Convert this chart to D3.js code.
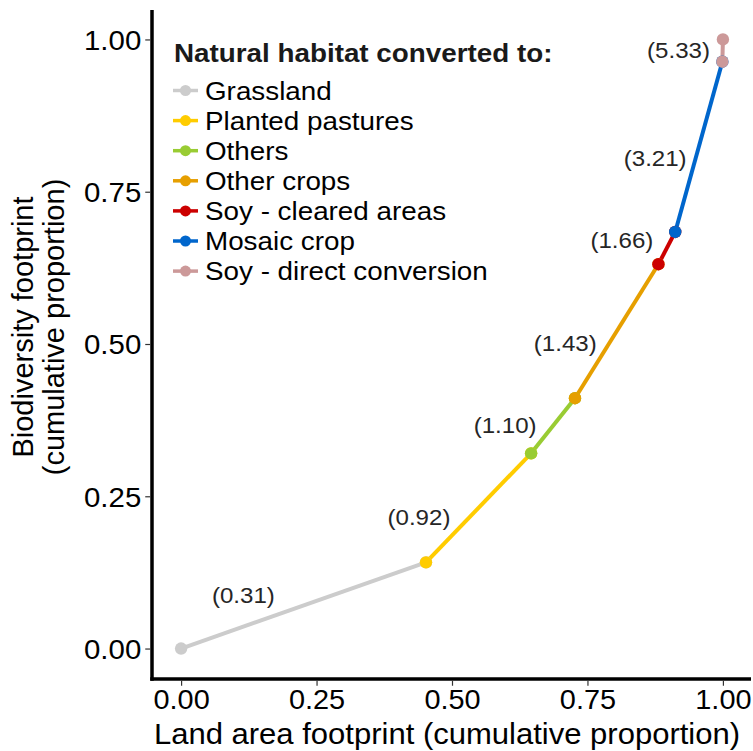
<!DOCTYPE html>
<html>
<head>
<meta charset="utf-8">
<script src="https://cdn.jsdelivr.net/npm/d3@7"></script>
<style>
  html, body { margin: 0; padding: 0; background: #ffffff; }
  svg { display: block; font-family: "Liberation Sans", Arial, sans-serif; }
</style>
</head>
<body>
<svg id="chart" width="753" height="751"></svg>
<script>
// ---- data ----
const categories = ["Grassland", "Planted pastures", "Others", "Other crops",
                    "Soy - cleared areas", "Mosaic crop", "Soy - direct conversion"];
const colors = ["#cccccc", "#ffcc00", "#99cc33", "#e69f00", "#cc0000", "#0066cc", "#cc9999"];
// cumulative proportions at segment boundaries (start of first .. end of last)
const cumLand = [0.000, 0.452, 0.646, 0.727, 0.881, 0.912, 0.999, 1.000];
const cumBio  = [0.000, 0.1415, 0.3205, 0.411, 0.631, 0.684, 0.9635, 1.000];
// biodiversity / land ratio per category
const ratios = [0.31, 0.92, 1.10, 1.43, 1.66, 3.21, 5.33];
// label anchor positions (data units)
const labelX = [0.115, 0.439, 0.598, 0.709, 0.8135, 0.875, 0.918];
const labelY = [0.088, 0.2164, 0.3665, 0.501, 0.671, 0.805, 0.983];
const tickValues = [0, 0.25, 0.5, 0.75, 1];
const xTitle = "Land area footprint (cumulative proportion)";
const yTitle = ["Biodiversity footprint", "(cumulative proportion)"];
const legendTitle = "Natural habitat converted to:";

// ---- layout ----
const SX = 1.07; // horizontal glyph widening seen in the reference
const svg = d3.select("#chart");
const panel = { left: 152, right: 751, top: 10, bottom: 679 };
const x = d3.scaleLinear().domain([-0.05, 1.05]).range([154, 750]);
const y = d3.scaleLinear().domain([-0.05, 1.05]).range([679, 9]);

function wideText(parent, px, py, str) {
  return parent.append("text")
    .attr("transform", `translate(${px},${py}) scale(${SX},1)`)
    .text(str);
}

const segs = categories.map((c, i) => ({
  cat: c, color: colors[i], ratio: ratios[i],
  x0: cumLand[i], y0: cumBio[i], x1: cumLand[i + 1], y1: cumBio[i + 1],
  lx: labelX[i], ly: labelY[i]
}));

// axes lines
svg.append("line").attr("x1", panel.left).attr("x2", panel.left)
  .attr("y1", panel.top).attr("y2", panel.bottom + 1.75)
  .attr("stroke", "#000").attr("stroke-width", 3.5);
svg.append("line").attr("x1", panel.left - 1.75).attr("x2", panel.right)
  .attr("y1", panel.bottom).attr("y2", panel.bottom)
  .attr("stroke", "#000").attr("stroke-width", 3.5);

// axes via d3
const xAxis = d3.axisBottom(x).tickValues(tickValues).tickFormat(d3.format(".2f"))
  .tickSize(5).tickPadding(8);
const gx = svg.append("g").attr("transform", `translate(0,${panel.bottom + 1.75})`).call(xAxis);
gx.select(".domain").remove();
gx.selectAll(".tick line").attr("stroke", "#333").attr("stroke-width", 1.2);
gx.selectAll(".tick text").attr("fill", "#000").attr("font-size", 27)
  .attr("font-family", "Liberation Sans, Arial, sans-serif")
  .attr("y", 0).attr("dy", 0)
  .attr("transform", `translate(0,28.5) scale(${SX},1)`);

const yAxis = d3.axisLeft(y).tickValues(tickValues).tickFormat(d3.format(".2f"))
  .tickSize(5).tickPadding(6);
const gy = svg.append("g").attr("transform", `translate(${panel.left - 1.75},0)`).call(yAxis);
gy.select(".domain").remove();
gy.selectAll(".tick line").attr("stroke", "#333").attr("stroke-width", 1.2);
gy.selectAll(".tick text").attr("fill", "#000").attr("font-size", 27.5)
  .attr("font-family", "Liberation Sans, Arial, sans-serif")
  .attr("x", 0).attr("dy", "0.36em")
  .attr("transform", `translate(-9,0) scale(${SX},1)`);

// axis titles
wideText(svg, 447, 743.5, xTitle).attr("text-anchor", "middle")
  .attr("font-size", 29).attr("fill", "#000");
yTitle.forEach((t, i) => {
  svg.append("text")
    .attr("transform", `translate(${33 + i * 30.5},327) rotate(-90)`)
    .attr("text-anchor", "middle").attr("font-size", 29).attr("fill", "#000").text(t);
});

// lines
svg.append("g").selectAll("line").data(segs).join("line")
  .attr("x1", d => x(d.x0)).attr("y1", d => y(d.y0))
  .attr("x2", d => x(d.x1)).attr("y2", d => y(d.y1))
  .attr("stroke", d => d.color).attr("stroke-width", 4);

// points (start and end of each segment, later categories on top)
const pts = [];
segs.forEach(s => { pts.push({ x: s.x0, y: s.y0, color: s.color }); pts.push({ x: s.x1, y: s.y1, color: s.color }); });
svg.append("g").selectAll("circle").data(pts).join("circle")
  .attr("cx", d => x(d.x)).attr("cy", d => y(d.y)).attr("r", 6.2)
  .attr("fill", d => d.color);

// ratio labels
const lblG = svg.append("g");
segs.forEach(d => {
  wideText(lblG, x(d.lx), y(d.ly), `(${d.ratio.toFixed(2)})`)
    .attr("dy", "0.36em").attr("text-anchor", "middle")
    .attr("font-size", 22.5).attr("fill", "#262626");
});

// legend
const lg = svg.append("g");
wideText(lg, 174, 61.5, legendTitle).attr("font-size", 26)
  .attr("font-weight", "bold").attr("fill", "#1a1a1a");
const rowY = d3.scaleLinear().domain([0, 1]).range([90.5, 120.6]);
const items = lg.selectAll("g.item").data(segs).join("g").attr("class", "item")
  .attr("transform", (d, i) => `translate(0,${rowY(i)})`);
items.append("line").attr("x1", 173).attr("x2", 198).attr("y1", 0).attr("y2", 0)
  .attr("stroke", d => d.color).attr("stroke-width", 3.5);
items.append("circle").attr("cx", 185.5).attr("cy", 0).attr("r", 5.5).attr("fill", d => d.color);
items.each(function (d) {
  wideText(d3.select(this), 205, 0, d.cat).attr("dy", "0.36em")
    .attr("font-size", 26).attr("fill", "#000");
});
</script>
</body>
</html>
